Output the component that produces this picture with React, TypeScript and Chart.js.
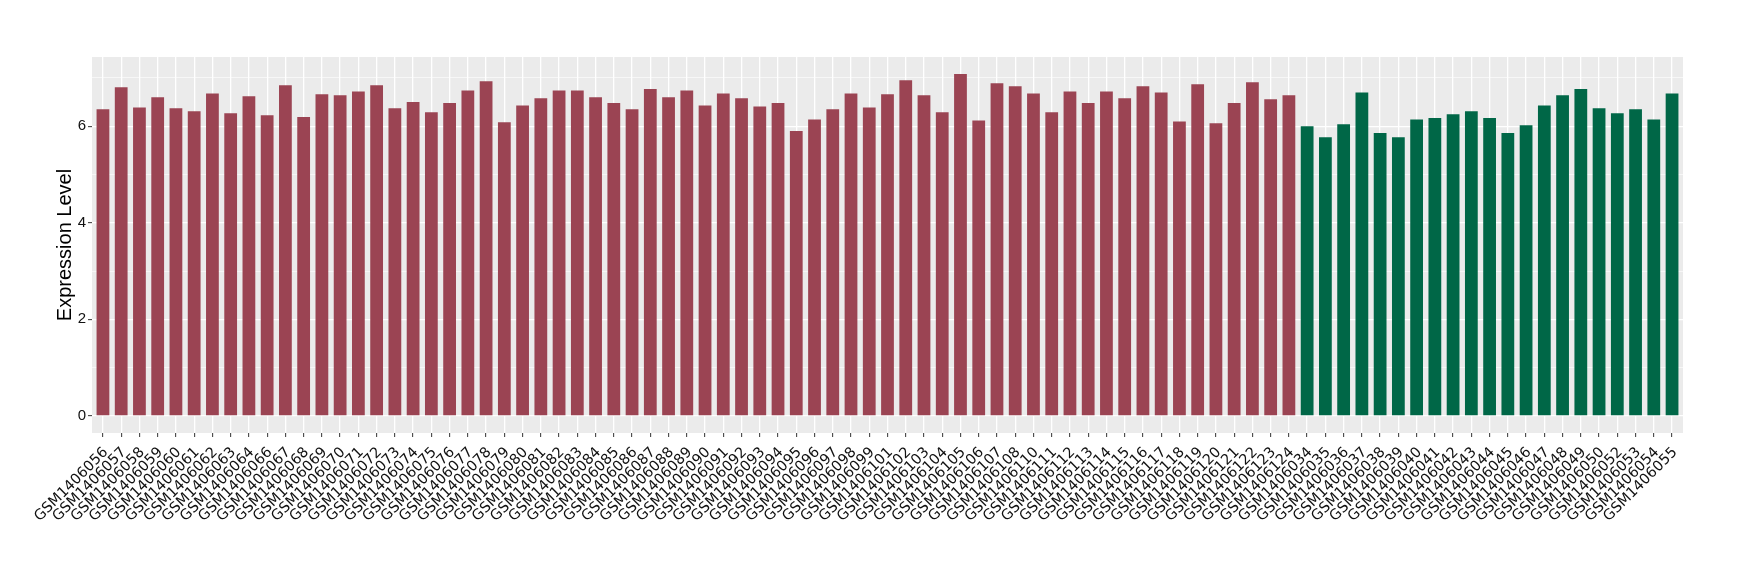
import React, { useEffect, useRef } from "react";
import { Chart, registerables } from "chart.js";

Chart.register(...registerables);

const redLabels = [
  "GSM1406056", "GSM1406057", "GSM1406058", "GSM1406059", "GSM1406060", "GSM1406061", "GSM1406062", "GSM1406063", "GSM1406064",
  "GSM1406066", "GSM1406067", "GSM1406068", "GSM1406069", "GSM1406070", "GSM1406071", "GSM1406072", "GSM1406073", "GSM1406074",
  "GSM1406075", "GSM1406076", "GSM1406077", "GSM1406078", "GSM1406079", "GSM1406080", "GSM1406081", "GSM1406082", "GSM1406083",
  "GSM1406084", "GSM1406085", "GSM1406086", "GSM1406087", "GSM1406088", "GSM1406089", "GSM1406090", "GSM1406091", "GSM1406092",
  "GSM1406093", "GSM1406094", "GSM1406095", "GSM1406096", "GSM1406097", "GSM1406098", "GSM1406099",
  "GSM1406101", "GSM1406102", "GSM1406103", "GSM1406104", "GSM1406105", "GSM1406106", "GSM1406107", "GSM1406108",
  "GSM1406110", "GSM1406111", "GSM1406112", "GSM1406113", "GSM1406114", "GSM1406115", "GSM1406116", "GSM1406117",
  "GSM1406118", "GSM1406119", "GSM1406120", "GSM1406121", "GSM1406122", "GSM1406123", "GSM1406124",
];

const redValues = [
  6.35, 6.81, 6.39, 6.60, 6.37, 6.31, 6.68, 6.27, 6.62,
  6.23, 6.85, 6.19, 6.66, 6.64, 6.72, 6.85, 6.37, 6.50,
  6.29, 6.48, 6.74, 6.93, 6.08, 6.43, 6.58, 6.74, 6.74,
  6.60, 6.48, 6.35, 6.77, 6.60, 6.74, 6.43, 6.68, 6.58,
  6.41, 6.48, 5.90, 6.14, 6.35, 6.68, 6.39,
  6.66, 6.95, 6.64, 6.29, 7.08, 6.12, 6.89, 6.83,
  6.68, 6.29, 6.72, 6.48, 6.72, 6.58, 6.83, 6.70,
  6.10, 6.87, 6.06, 6.48, 6.91, 6.56, 6.64,
];

const greenLabels = [
  "GSM1406034", "GSM1406035", "GSM1406036", "GSM1406037", "GSM1406038", "GSM1406039", "GSM1406040",
  "GSM1406041", "GSM1406042", "GSM1406043", "GSM1406044", "GSM1406045", "GSM1406046", "GSM1406047",
  "GSM1406048", "GSM1406049", "GSM1406050", "GSM1406052", "GSM1406053", "GSM1406054", "GSM1406055",
];

const greenValues = [
  6.00, 5.77, 6.04, 6.70, 5.86, 5.77, 6.14,
  6.17, 6.25, 6.31, 6.17, 5.86, 6.02, 6.43,
  6.64, 6.77, 6.37, 6.27, 6.35, 6.14, 6.68,
];

const yTickValues = [0, 1, 2, 3, 4, 5, 6, 7];
const yLabeledTicks = [0, 2, 4, 6];
const yTitle = "Expression Level";

const RED = "#9B4453";
const GREEN = "#006747";
const FONT = "'Liberation Sans', Arial, Helvetica, sans-serif";
const XFONT = "'DejaVu Sans', 'Liberation Sans', sans-serif";

export default function App() {
  const ref = useRef<HTMLCanvasElement | null>(null);

  useEffect(() => {
    if (!ref.current) return;
    const categories = [...redLabels, ...greenLabels];
    const n = categories.length;
    const redData = redValues.map((v, i) => ({ x: i, y: v }));
    const greenData = greenValues.map((v, i) => ({ x: redLabels.length + i, y: v }));
    const maxV = Math.max(...redValues, ...greenValues);
    const expand = maxV * 0.05;

    const panelBg = {
      id: "panelBg",
      beforeDraw(chart: any) {
        const { ctx, chartArea } = chart;
        ctx.save();
        ctx.fillStyle = "#EBEBEB";
        ctx.fillRect(chartArea.left, chartArea.top, chartArea.right - chartArea.left, chartArea.bottom - chartArea.top);
        ctx.restore();
      },
    };

    const chart = new Chart(ref.current, {
      type: "bar",
      data: {
        datasets: [
          { data: redData as any, backgroundColor: RED, grouped: false, barPercentage: 0.7, categoryPercentage: 1 },
          { data: greenData as any, backgroundColor: GREEN, grouped: false, barPercentage: 0.7, categoryPercentage: 1 },
        ],
      },
      options: {
        animation: false,
        responsive: false,
        maintainAspectRatio: false,
        layout: { padding: { top: 57, right: 57, bottom: 0, left: 0 } },
        plugins: { legend: { display: false }, tooltip: { enabled: false } },
        scales: {
          x: {
            type: "linear",
            min: -0.6,
            max: n - 1 + 0.6,
            offset: false,
            afterBuildTicks: (scale: any) => {
              scale.ticks = categories.map((_, i) => ({ value: i }));
            },
            afterFit: (scale: any) => {
              scale.height = 147;
            },
            ticks: {
              autoSkip: false,
              maxRotation: 45,
              minRotation: 45,
              padding: 7,
              labelOffset: 3,
              color: "#111111",
              font: { family: XFONT, size: 14.5 },
              callback: (v: any) => categories[v as number] ?? "",
            },
            grid: {
              offset: false,
              color: "#FFFFFF",
              lineWidth: 1.3,
              drawTicks: true,
              tickLength: 4,
              tickColor: "#333333",
              tickWidth: 1,
            },
            border: { display: false },
          },
          y: {
            type: "linear",
            min: -expand,
            max: maxV + expand,
            afterBuildTicks: (scale: any) => {
              scale.ticks = yTickValues.map((v) => ({ value: v }));
            },
            afterFit: (scale: any) => {
              scale.width = 92;
            },
            ticks: {
              padding: 2,
              color: "#111111",
              font: { family: FONT, size: 15 },
              callback: (v: any) => (yLabeledTicks.includes(v as number) ? String(v) : ""),
            },
            grid: {
              color: "#FFFFFF",
              lineWidth: (ctx: any) => (yLabeledTicks.includes(ctx.tick?.value) ? 1.3 : 0.6),
              drawTicks: true,
              tickLength: 4,
              tickColor: (ctx: any) => (yLabeledTicks.includes(ctx.tick?.value) ? "#333333" : "rgba(0,0,0,0)"),
              tickWidth: 1,
            },
            border: { display: false },
            title: {
              display: true,
              text: yTitle,
              color: "#000000",
              font: { family: FONT, size: 20, weight: "normal" },
              padding: { top: 53, bottom: 0 },
            },
          },
        },
      },
      plugins: [panelBg],
    });

    return () => chart.destroy();
  }, []);

  return (
    <div style={{ position: "fixed", left: 0, top: 0, width: 1740, height: 580, background: "#FFFFFF" }}>
      <canvas ref={ref} width={1740} height={580} style={{ width: 1740, height: 580, display: "block" }} />
    </div>
  );
}
